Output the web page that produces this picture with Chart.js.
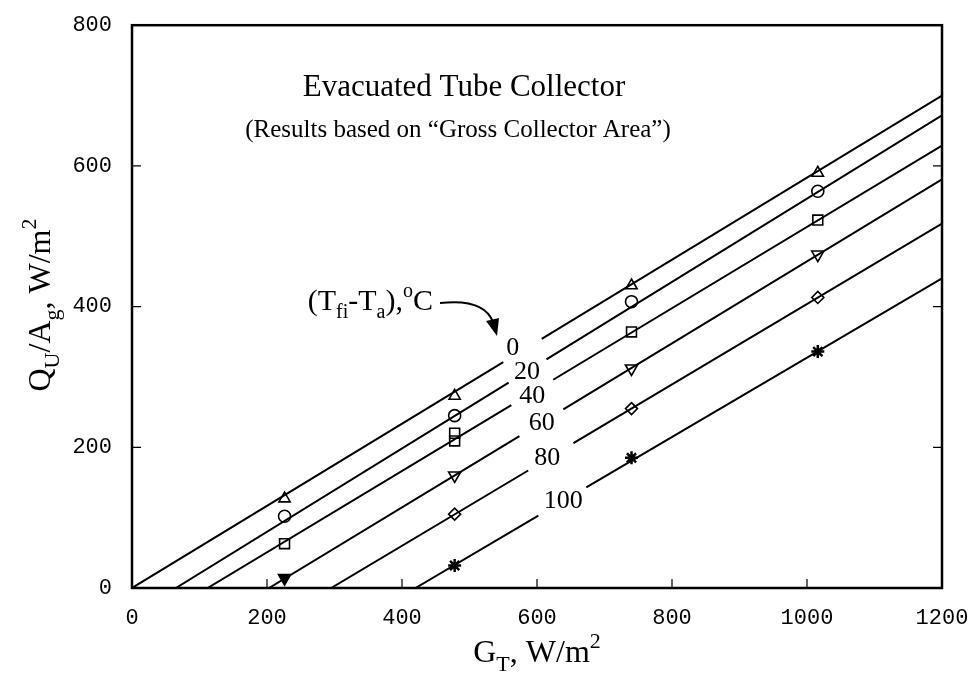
<!DOCTYPE html>
<html>
<head>
<meta charset="utf-8">
<script src="https://cdn.jsdelivr.net/npm/chart.js@4.4.1/dist/chart.umd.min.js"></script>
<style>
    html, body { margin: 0; padding: 0; background: #fff; }
    #wrap { width: 980px; height: 675px; }
</style>
</head>
<body>
<div id="wrap"><canvas id="chart" width="980" height="675"></canvas></div>
<script>
// measured points, G_T (W/m2) vs Qu/Ag (W/m2)
const triX = [226, 478, 740, 1016];
const triY = [127, 273, 430, 590];
const circX = [226, 478, 740, 1016];
const circY = [102, 245, 407, 564];
const sqX = [226, 478, 478, 740, 1016];
const sqY = [63, 220, 209, 364, 523];
const invX = [226, 478, 740, 1016];
const invY = [14, 160, 312, 474];
const diaX = [478, 740, 1016];
const diaY = [105, 255, 413];
const starX = [478, 740, 1016];
const starY = [32, 185, 336];

// fitted lines, two pieces each (gap where the label sits)
const lineTemps = ['0', '20', '40', '60', '80', '100'];
const lineX = [
    [0, 550, 607, 1200],
    [65, 558, 614, 1200],
    [112, 562, 624, 1200],
    [203, 574, 639, 1200],
    [295, 587, 654, 1200],
    [420, 602, 673, 1200]
];
const lineY = [
    [0, 321, 354, 700],
    [0, 292, 325, 672],
    [0, 260, 296, 629],
    [0, 216, 254, 581],
    [0, 167, 206, 518],
    [0, 103, 143, 440]
];
const labelX = [564, 585, 593, 607, 615, 639];
const labelY = [341, 307, 272, 234, 185, 123];

const xTicks = [0, 200, 400, 600, 800, 1000, 1200];
const yTicks = [0, 200, 400, 600, 800];

const SERIF = '"Liberation Serif", "Times New Roman", serif';
const MONO = '"Liberation Mono", "Courier New", monospace';

function pts(xs, ys) {
    return xs.map((x, i) => ({ x: x, y: ys[i] }));
}

const datasets = [];
lineX.forEach((xs, i) => {
    const ys = lineY[i];
    datasets.push({
        type: 'line',
        data: [
            { x: xs[0], y: ys[0] }, { x: xs[1], y: ys[1] },
            { x: xs[1], y: null },
            { x: xs[2], y: ys[2] }, { x: xs[3], y: ys[3] }
        ],
        borderColor: '#000',
        borderWidth: 2,
        pointRadius: 0,
        spanGaps: false,
        tension: 0
    });
});

function markers(xs, ys, style, opts) {
    return Object.assign({
        type: 'scatter',
        data: pts(xs, ys),
        pointStyle: style,
        pointRadius: 5,
        borderColor: '#000',
        backgroundColor: 'rgba(0,0,0,0)',
        borderWidth: 1.6
    }, opts || {});
}

datasets.push(markers(triX, triY, 'triangle', { pointRadius: 6.5 }));
datasets.push(markers(circX, circY, 'circle', { pointRadius: 6 }));
datasets.push(markers(sqX, sqY, 'rect', { pointRadius: 7 }));
datasets.push(markers(invX, invY, 'triangle', { pointRadius: 7, rotation: 180,
    backgroundColor: ['#000', 'rgba(0,0,0,0)', 'rgba(0,0,0,0)', 'rgba(0,0,0,0)'] }));
datasets.push(markers(diaX, diaY, 'rectRot', { pointRadius: 6 }));
datasets.push(markers(starX, starY, 'star', { pointRadius: 6.5, borderWidth: 2.5 }));

function richText(ctx, segs, x, y, size, align) {
    const fontOf = s => (s.k ? Math.round(size * 0.68) : size) + 'px ' + SERIF;
    let total = 0;
    segs.forEach(s => { ctx.font = fontOf(s); total += ctx.measureText(s.t).width; });
    let cx = align === 'center' ? x - total / 2 : (align === 'right' ? x - total : x);
    ctx.textAlign = 'left';
    ctx.textBaseline = 'alphabetic';
    segs.forEach(s => {
        ctx.font = fontOf(s);
        const dy = s.k === 'sub' ? size * 0.28 : (s.k === 'sup' ? -size * 0.45 : 0);
        ctx.fillText(s.t, cx, y + dy);
        cx += ctx.measureText(s.t).width;
    });
}

const decor = {
    id: 'decor',
    afterDraw(chart) {
        const ctx = chart.ctx;
        const a = chart.chartArea;
        const xs = chart.scales.x, ys = chart.scales.y;
        ctx.save();
        ctx.strokeStyle = '#000';
        ctx.fillStyle = '#000';

        // frame
        ctx.lineWidth = 2.5;
        ctx.strokeRect(a.left, a.top, a.right - a.left, a.bottom - a.top);

        // inward ticks
        ctx.lineWidth = 1.2;
        ctx.beginPath();
        xTicks.slice(1, -1).forEach(v => {
            const p = xs.getPixelForValue(v);
            ctx.moveTo(p, a.bottom); ctx.lineTo(p, a.bottom - 9);
        });
        yTicks.slice(1, -1).forEach(v => {
            const p = ys.getPixelForValue(v);
            ctx.moveTo(a.left, p); ctx.lineTo(a.left + 9, p);
            ctx.moveTo(a.right, p); ctx.lineTo(a.right - 9, p);
        });
        ctx.stroke();

        // titles
        ctx.textAlign = 'center';
        ctx.textBaseline = 'middle';
        ctx.font = '31px ' + SERIF;
        ctx.fillText('Evacuated Tube Collector', 464, 88);
        ctx.font = '25px ' + SERIF;
        ctx.fillText('(Results based on \u201cGross Collector Area\u201d)', 458, 130);

        // temperature labels on the lines
        ctx.font = '26px ' + SERIF;
        lineTemps.forEach((t, i) => {
            ctx.fillText(t, xs.getPixelForValue(labelX[i]), ys.getPixelForValue(labelY[i]));
        });

        // (Tfi-Ta),oC label with arrow
        richText(ctx, [
            { t: '(T' }, { t: 'fi', k: 'sub' }, { t: '-T' }, { t: 'a', k: 'sub' },
            { t: '),' }, { t: 'o', k: 'sup' }, { t: 'C' }
        ], 433, 310, 30, 'right');
        ctx.lineWidth = 2;
        ctx.beginPath();
        ctx.moveTo(440, 303);
        ctx.quadraticCurveTo(484, 298, 493, 322);
        ctx.stroke();
        ctx.beginPath();
        ctx.moveTo(497, 336);
        ctx.lineTo(486, 321);
        ctx.lineTo(499, 318);
        ctx.closePath();
        ctx.fill();

        // axis titles
        richText(ctx, [
            { t: 'G' }, { t: 'T', k: 'sub' }, { t: ', W/m' }, { t: '2', k: 'sup' }
        ], 537, 662, 32, 'center');

        ctx.translate(50, 305);
        ctx.rotate(-Math.PI / 2);
        richText(ctx, [
            { t: 'Q' }, { t: 'U', k: 'sub' }, { t: '/A' }, { t: 'g', k: 'sub' },
            { t: ', W/m' }, { t: '2', k: 'sup' }
        ], 0, 0, 32, 'center');
        ctx.restore();
    }
};

new Chart(document.getElementById('chart').getContext('2d'), {
    type: 'scatter',
    data: { datasets: datasets },
    options: {
        responsive: false,
        animation: false,
        layout: { padding: { top: 14, right: 38, left: 0, bottom: 0 } },
        plugins: {
            legend: { display: false },
            tooltip: { enabled: false }
        },
        scales: {
            x: {
                type: 'linear',
                min: 0,
                max: 1200,
                afterFit: scale => { scale.height = 87; },
                afterBuildTicks: scale => { scale.ticks = xTicks.map(v => ({ value: v })); },
                grid: { display: false },
                border: { display: false },
                ticks: { color: '#000', font: { family: MONO, size: 22 }, padding: 9, autoSkip: false, maxRotation: 0,
                    callback: v => String(v) }
            },
            y: {
                type: 'linear',
                min: 0,
                max: 800,
                afterFit: scale => { scale.width = 132; },
                afterBuildTicks: scale => { scale.ticks = yTicks.map(v => ({ value: v })); },
                grid: { display: false },
                border: { display: false },
                ticks: { color: '#000', font: { family: MONO, size: 22 }, padding: 12,
                    callback: v => String(v) }
            }
        }
    },
    plugins: [decor]
});
</script>
</body>
</html>
